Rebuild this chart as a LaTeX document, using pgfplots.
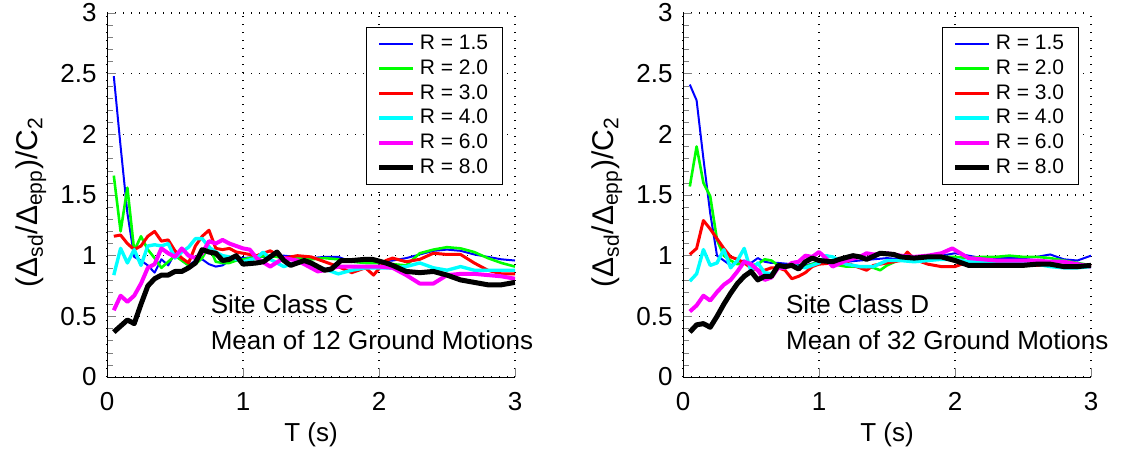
\documentclass[border=0pt]{standalone}
\usepackage{fontspec}
\setmainfont{Liberation Sans}
\usepackage{pgfplots}
\pgfplotsset{compat=1.18}

\pgfplotsset{
  rplot/.style={
    scale only axis,
    width=204pt, height=182pt,
    anchor=south west,
    xmin=0, xmax=3, ymin=0, ymax=3,
    xtick={0,1,2,3},
    ytick={0,0.5,1,1.5,2,2.5,3},
    yticklabels={0,0.5,1,1.5,2,2.5,3},
    minor y tick num=4,
    tick align=inside,
    axis x line*=bottom, axis y line*=left,
    grid=major,
    major grid style={black, line width=0.6pt, dash pattern=on 0.6pt off 3.4pt},
    /pgf/number format/assume math mode=true,
    ticklabel style={font=\fontsize{13}{15}\selectfont},
    xticklabel style={anchor=base, yshift=-16.5pt},
    yticklabel style={anchor=east, inner sep=0pt, xshift=-5pt},
    xlabel={T (s)},
    xlabel style={font=\fontsize{13}{15}\selectfont, at={(axis description cs:0.5,0)}, anchor=base, yshift=-32pt},
    ylabel={(Δ\textsubscript{sd}/Δ\textsubscript{epp})/C\textsubscript{2}},
    ylabel style={font=\fontsize{15}{17}\selectfont, at={(axis description cs:-0.186,0.48)}, anchor=center},
    legend style={at={(0.97,0.962)}, anchor=north east, draw=black, line width=0.6pt,
      font=\fontsize{10.5}{12}\selectfont, inner xsep=5pt, inner ysep=2pt, row sep=-0.5pt},
    legend cell align=left,
    clip mode=individual,
    every axis plot/.append style={line join=round, no markers},
  },
  c1/.style={draw={rgb,1:red,0;green,0;blue,1}, line width=1pt},
  c2/.style={draw={rgb,1:red,0;green,1;blue,0}, line width=1.3pt},
  c3/.style={draw={rgb,1:red,1;green,0;blue,0}, line width=1.5pt},
  c4/.style={draw={rgb,1:red,0;green,1;blue,1}, line width=1.7pt},
  c5/.style={draw={rgb,1:red,1;green,0;blue,1}, line width=2pt},
  c6/.style={draw=black, line width=2.5pt},
}

\begin{document}
\begin{tikzpicture}
\useasboundingbox (0,0) rectangle (561pt,226pt);

% ---- Site Class C ----
\begin{axis}[rplot, at={(53.5pt,37.5pt)}]
\addplot[c1] coordinates {(0.05,2.48)(0.1,1.9)(0.15,1.35)(0.2,0.99)(0.25,0.96)(0.3,0.92)(0.35,0.86)(0.4,0.97)(0.45,0.92)(0.5,1.02)(0.55,0.96)(0.6,0.92)(0.65,0.96)(0.7,0.97)(0.75,0.93)(0.8,0.91)(0.85,0.92)(0.9,0.96)(0.95,0.99)(1.0,0.98)(1.1,0.99)(1.2,0.99)(1.3,1.0)(1.4,0.99)(1.5,0.98)(1.6,0.99)(1.7,0.99)(1.8,0.95)(1.9,0.95)(2.0,0.95)(2.1,0.96)(2.2,0.98)(2.3,1.01)(2.4,1.04)(2.5,1.05)(2.6,1.04)(2.7,1.01)(2.8,0.99)(2.9,0.97)(3.0,0.96)};
\addplot[c2] coordinates {(0.05,1.66)(0.1,1.2)(0.15,1.56)(0.2,1.04)(0.25,1.16)(0.3,1.05)(0.35,0.98)(0.4,0.9)(0.45,0.95)(0.5,1.0)(0.55,0.96)(0.6,0.92)(0.65,0.93)(0.7,0.98)(0.75,1.08)(0.8,0.95)(0.85,0.94)(0.9,0.94)(0.95,0.96)(1.0,0.97)(1.1,0.99)(1.2,1.0)(1.3,0.98)(1.4,0.98)(1.5,0.97)(1.6,0.98)(1.7,0.97)(1.8,0.95)(1.9,0.94)(2.0,0.94)(2.1,0.93)(2.2,0.92)(2.3,1.02)(2.4,1.05)(2.5,1.07)(2.6,1.06)(2.7,1.03)(2.8,0.98)(2.9,0.94)(3.0,0.91)};
\addplot[c3] coordinates {(0.05,1.16)(0.1,1.17)(0.15,1.1)(0.2,1.05)(0.25,1.08)(0.3,1.16)(0.35,1.2)(0.4,1.12)(0.45,1.13)(0.5,1.04)(0.55,0.98)(0.6,0.94)(0.65,1.08)(0.7,1.16)(0.75,1.21)(0.8,1.06)(0.85,1.05)(0.9,1.06)(0.95,1.03)(1.0,1.02)(1.1,1.0)(1.2,1.04)(1.3,0.98)(1.4,1.0)(1.5,0.99)(1.6,0.95)(1.7,0.91)(1.8,0.86)(1.9,0.9)(1.96,0.84)(2.05,0.96)(2.1,0.98)(2.2,0.95)(2.3,0.97)(2.4,1.02)(2.5,1.01)(2.6,1.01)(2.7,0.94)(2.8,0.88)(2.9,0.85)(3.0,0.85)};
\addplot[c4] coordinates {(0.05,0.84)(0.1,1.06)(0.15,0.94)(0.2,1.05)(0.25,0.92)(0.3,1.08)(0.35,1.09)(0.4,1.08)(0.45,1.1)(0.5,0.98)(0.55,1.03)(0.6,1.07)(0.65,1.14)(0.7,1.14)(0.75,1.07)(0.8,1.03)(0.85,1.0)(0.9,0.99)(0.95,0.97)(1.0,0.95)(1.1,0.98)(1.15,1.03)(1.2,0.97)(1.3,0.91)(1.4,0.95)(1.5,0.93)(1.6,0.89)(1.7,0.85)(1.8,0.88)(1.9,0.9)(2.0,0.9)(2.1,0.9)(2.2,0.91)(2.3,0.94)(2.4,0.9)(2.5,0.88)(2.6,0.91)(2.7,0.88)(2.8,0.88)(2.9,0.88)(3.0,0.88)};
\addplot[c5] coordinates {(0.05,0.55)(0.1,0.67)(0.15,0.62)(0.2,0.67)(0.25,0.77)(0.3,0.9)(0.35,0.93)(0.4,1.06)(0.45,1.02)(0.5,0.99)(0.55,1.06)(0.6,1.0)(0.65,0.98)(0.7,1.02)(0.75,1.12)(0.8,1.1)(0.85,1.13)(0.9,1.1)(0.95,1.08)(1.0,1.06)(1.05,1.05)(1.1,0.98)(1.2,0.91)(1.3,0.98)(1.4,0.96)(1.5,0.9)(1.55,0.87)(1.6,0.88)(1.7,0.91)(1.8,0.91)(1.9,0.91)(2.0,0.91)(2.1,0.9)(2.2,0.84)(2.3,0.77)(2.4,0.77)(2.5,0.84)(2.6,0.85)(2.7,0.85)(2.8,0.84)(2.9,0.83)(3.0,0.81)};
\addplot[c6] coordinates {(0.05,0.37)(0.1,0.42)(0.15,0.47)(0.2,0.44)(0.25,0.6)(0.3,0.75)(0.35,0.81)(0.4,0.84)(0.45,0.84)(0.5,0.87)(0.55,0.87)(0.6,0.9)(0.65,0.94)(0.7,1.05)(0.75,1.03)(0.8,1.02)(0.85,0.96)(0.9,0.97)(0.95,1.0)(1.0,0.93)(1.1,0.94)(1.15,0.95)(1.25,1.03)(1.3,0.96)(1.35,0.92)(1.45,0.96)(1.5,0.94)(1.6,0.88)(1.65,0.89)(1.72,0.96)(1.8,0.96)(1.9,0.97)(1.95,0.97)(2.05,0.94)(2.1,0.92)(2.2,0.87)(2.3,0.86)(2.4,0.87)(2.5,0.84)(2.6,0.8)(2.7,0.78)(2.8,0.76)(2.9,0.76)(3.0,0.78)};
\legend{R = 1.5, R = 2.0, R = 3.0, R = 4.0, R = 6.0, R = 8.0}
\node[anchor=base west, inner sep=0pt, font=\fontsize{13}{15}\selectfont] at (axis cs:0.76,0.52) {Site Class C};
\node[anchor=base west, inner sep=0pt, font=\fontsize{13}{15}\selectfont] at (axis cs:0.76,0.226) {Mean of 12 Ground Motions};
\end{axis}

% ---- Site Class D ----
\begin{axis}[rplot, at={(341.5pt,37.5pt)}]
\addplot[c1] coordinates {(0.05,2.41)(0.1,2.28)(0.15,1.8)(0.2,1.35)(0.25,1.0)(0.3,0.96)(0.35,0.92)(0.4,0.95)(0.45,0.96)(0.5,0.94)(0.55,0.98)(0.6,0.95)(0.65,0.94)(0.7,0.94)(0.8,0.93)(0.9,0.92)(1.0,0.95)(1.1,0.96)(1.2,0.95)(1.3,0.96)(1.4,0.97)(1.5,0.98)(1.6,0.97)(1.7,0.97)(1.8,0.98)(1.9,1.0)(2.0,1.02)(2.1,1.0)(2.2,0.98)(2.3,0.98)(2.4,0.98)(2.5,0.98)(2.6,0.99)(2.7,1.01)(2.8,0.97)(2.9,0.96)(3.0,1.0)};
\addplot[c2] coordinates {(0.05,1.57)(0.1,1.9)(0.15,1.6)(0.2,1.49)(0.25,1.13)(0.3,1.0)(0.35,0.96)(0.4,0.93)(0.45,0.94)(0.5,0.92)(0.55,0.93)(0.6,0.97)(0.65,0.96)(0.7,0.92)(0.8,0.92)(0.9,0.91)(1.0,0.95)(1.1,0.93)(1.2,0.91)(1.3,0.91)(1.4,0.9)(1.45,0.88)(1.5,0.92)(1.6,0.97)(1.7,0.99)(1.8,0.99)(1.9,0.99)(2.0,0.99)(2.1,0.98)(2.2,0.99)(2.3,0.99)(2.4,1.0)(2.5,0.99)(2.6,0.99)(2.7,0.98)(2.8,0.96)(2.9,0.94)(3.0,0.92)};
\addplot[c3] coordinates {(0.05,1.01)(0.1,1.06)(0.15,1.29)(0.2,1.22)(0.25,1.14)(0.3,1.06)(0.35,0.99)(0.4,0.97)(0.45,0.94)(0.5,0.9)(0.55,0.88)(0.6,0.88)(0.65,0.9)(0.7,0.9)(0.75,0.88)(0.8,0.81)(0.85,0.83)(0.9,0.86)(0.95,0.91)(1.0,0.93)(1.1,0.94)(1.2,0.94)(1.3,0.9)(1.35,0.88)(1.4,0.92)(1.5,0.94)(1.6,0.96)(1.65,1.03)(1.7,0.97)(1.8,0.93)(1.9,0.91)(2.0,0.91)(2.1,0.95)(2.2,0.94)(2.3,0.92)(2.4,0.92)(2.5,0.92)(2.6,0.92)(2.7,0.92)(2.8,0.92)(2.9,0.92)(3.0,0.92)};
\addplot[c4] coordinates {(0.05,0.79)(0.1,0.85)(0.15,1.05)(0.2,0.92)(0.25,0.94)(0.3,1.05)(0.35,0.9)(0.4,0.96)(0.45,1.06)(0.5,0.87)(0.55,0.94)(0.6,0.86)(0.65,0.85)(0.7,0.91)(0.8,0.92)(0.9,0.9)(1.0,0.94)(1.05,1.0)(1.1,0.99)(1.2,0.93)(1.3,0.91)(1.4,0.91)(1.5,0.96)(1.6,0.96)(1.7,0.95)(1.8,0.96)(1.9,0.97)(2.0,0.97)(2.1,0.95)(2.2,0.95)(2.3,0.94)(2.4,0.94)(2.5,0.94)(2.6,0.93)(2.7,0.91)(2.8,0.9)(2.9,0.9)(3.0,0.91)};
\addplot[c5] coordinates {(0.05,0.54)(0.1,0.59)(0.15,0.67)(0.2,0.63)(0.25,0.7)(0.3,0.76)(0.35,0.8)(0.4,0.87)(0.45,0.95)(0.5,0.93)(0.55,0.88)(0.6,0.8)(0.65,0.82)(0.7,0.9)(0.75,0.9)(0.8,0.94)(0.85,0.95)(0.9,1.0)(0.95,0.99)(1.0,1.03)(1.05,0.98)(1.1,0.91)(1.2,0.96)(1.3,0.99)(1.35,1.02)(1.4,1.01)(1.5,1.02)(1.6,1.0)(1.7,0.99)(1.8,1.0)(1.9,1.02)(1.98,1.06)(2.1,0.98)(2.2,0.97)(2.3,0.96)(2.4,0.96)(2.5,0.96)(2.6,0.96)(2.7,0.95)(2.8,0.95)(2.9,0.93)(3.0,0.91)};
\addplot[c6] coordinates {(0.05,0.37)(0.1,0.43)(0.15,0.44)(0.2,0.41)(0.25,0.5)(0.3,0.6)(0.35,0.69)(0.4,0.77)(0.45,0.83)(0.5,0.87)(0.55,0.8)(0.6,0.83)(0.65,0.83)(0.7,0.92)(0.75,0.91)(0.8,0.92)(0.85,0.89)(0.9,0.95)(0.95,0.98)(1.0,0.96)(1.1,0.95)(1.15,0.97)(1.25,1.0)(1.3,0.99)(1.35,0.97)(1.45,1.02)(1.55,1.01)(1.6,0.99)(1.7,0.98)(1.8,0.99)(1.9,0.99)(2.0,0.96)(2.1,0.92)(2.2,0.92)(2.3,0.92)(2.4,0.92)(2.5,0.92)(2.6,0.93)(2.7,0.93)(2.8,0.91)(2.9,0.91)(3.0,0.92)};
\legend{R = 1.5, R = 2.0, R = 3.0, R = 4.0, R = 6.0, R = 8.0}
\node[anchor=base west, inner sep=0pt, font=\fontsize{13}{15}\selectfont] at (axis cs:0.755,0.52) {Site Class D};
\node[anchor=base west, inner sep=0pt, font=\fontsize{13}{15}\selectfont] at (axis cs:0.755,0.226) {Mean of 32 Ground Motions};
\end{axis}
\end{tikzpicture}
\end{document}
